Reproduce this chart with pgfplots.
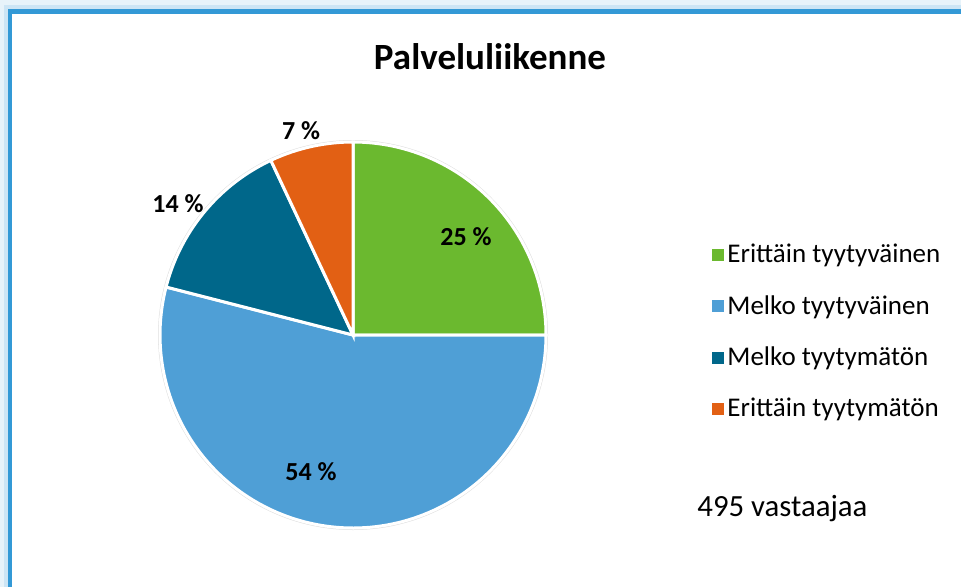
\documentclass[border=0pt]{standalone}
\usepackage{pgfplots}
\pgfplotsset{compat=1.18}
\usepackage{fontspec}
\setmainfont{Carlito}
\definecolor{cGreen}{RGB}{107,185,47}
\definecolor{cLight}{RGB}{79,159,214}
\definecolor{cTeal}{RGB}{0,103,138}
\definecolor{cOrange}{RGB}{226,96,20}
\definecolor{cFrame}{RGB}{51,153,214}
\begin{document}
\begin{tikzpicture}
\useasboundingbox (0,0) rectangle (480.5pt,293pt);
% values (percent)
\def\vA{25}\def\vB{54}\def\vC{14}\def\vD{7}
\pgfmathsetmacro{\aA}{90}
\pgfmathsetmacro{\aB}{90-3.6*\vA}
\pgfmathsetmacro{\aC}{\aB-3.6*\vB}
\pgfmathsetmacro{\aD}{\aC-3.6*\vC}
\pgfmathsetmacro{\aE}{\aD-3.6*\vD}
\begin{axis}[
  scale only axis, width=480.5pt, height=293pt,
  xmin=0, xmax=961, ymin=0, ymax=586,
  axis lines=none, ticks=none,
  legend style={at={(axis cs:706,349)}, anchor=north west, draw=none, fill=none,
    font=\fontsize{13.5}{16}\selectfont, row sep=11.8pt,
    nodes={inner sep=1.5pt}},
  legend cell align=left,
  legend image code/.code={\fill[#1, draw=none] (0pt,-3pt) rectangle (6pt,3pt);},
]
% frame with glow
\draw[cFrame!12, line width=6pt] (axis cs:4,581) rectangle (axis cs:1100,-100);
\draw[cFrame!25, line width=3pt] (axis cs:6.5,578) rectangle (axis cs:1100,-100);
\draw[cFrame, line width=2.2pt] (axis cs:10,574.5) rectangle (axis cs:1100,-100);
% pie shadow
\draw[black!12, line width=2pt] (axis cs:353,251) circle[radius=193];
\addplot[fill=cGreen, draw=white, line width=1.5pt, domain=\aA:\aB, samples=60]
  ({353+193*cos(x)},{251+193*sin(x)}) -- (axis cs:353,251) -- cycle;
\addlegendentry{Erittäin tyytyväinen}
\addplot[fill=cLight, draw=white, line width=1.5pt, domain=\aB:\aC, samples=120]
  ({353+193*cos(x)},{251+193*sin(x)}) -- (axis cs:353,251) -- cycle;
\addlegendentry{Melko tyytyväinen}
\addplot[fill=cTeal, draw=white, line width=1.5pt, domain=\aC:\aD, samples=40]
  ({353+193*cos(x)},{251+193*sin(x)}) -- (axis cs:353,251) -- cycle;
\addlegendentry{Melko tyytymätön}
\addplot[fill=cOrange, draw=white, line width=1.5pt, domain=\aD:\aE, samples=30]
  ({353+193*cos(x)},{251+193*sin(x)}) -- (axis cs:353,251) -- cycle;
\addlegendentry{Erittäin tyytymätön}
% labels
\node[font=\fontsize{18.5}{22}\selectfont\bfseries] at (axis cs:490,529) {Palveluliikenne};
\node[font=\fontsize{13}{15}\selectfont\bfseries] at (axis cs:466,349) {25 \%};
\node[font=\fontsize{13}{15}\selectfont\bfseries] at (axis cs:311,114) {54 \%};
\node[font=\fontsize{13}{15}\selectfont\bfseries] at (axis cs:178,382) {14 \%};
\node[font=\fontsize{13}{15}\selectfont\bfseries] at (axis cs:301,455) {7 \%};
\node[font=\fontsize{15.4}{18}\selectfont, anchor=west, inner sep=0pt] at (axis cs:697,77) {495 vastaajaa};
\end{axis}
\end{tikzpicture}
\end{document}
